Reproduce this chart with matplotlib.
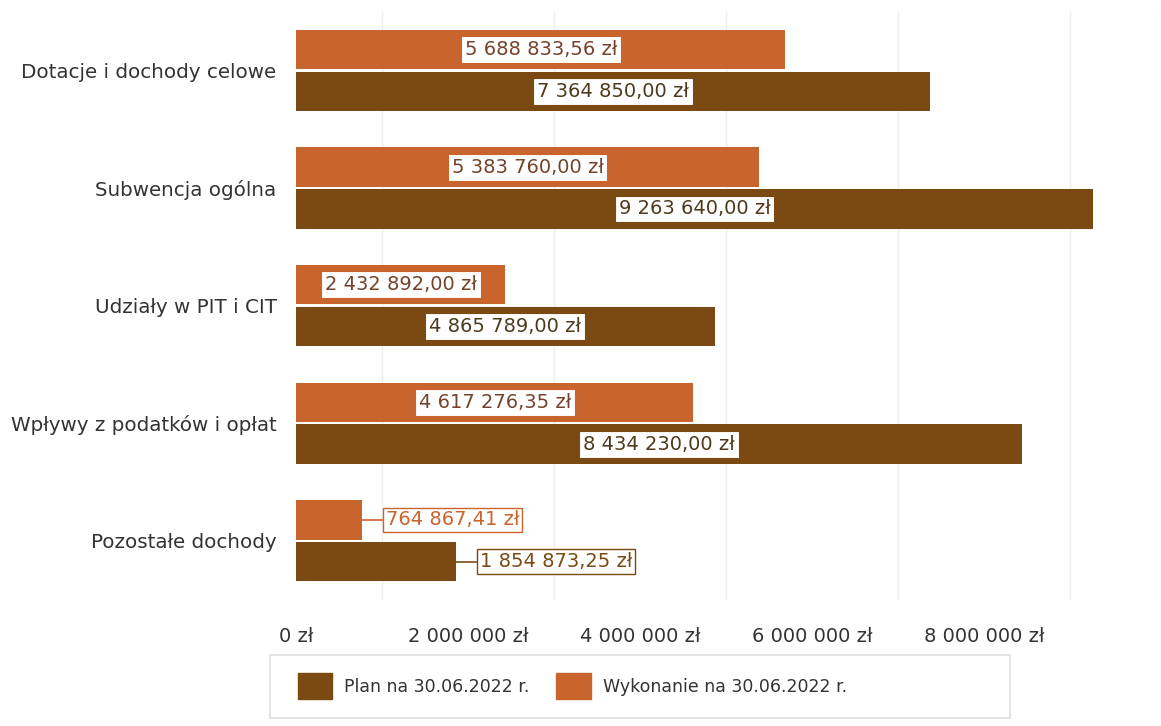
import matplotlib.pyplot as plt
from matplotlib.patches import Rectangle
from matplotlib.ticker import FixedLocator, FuncFormatter

categories = ['Dotacje i dochody celowe', 'Subwencja ogólna', 'Udziały w PIT i CIT',
              'Wpływy z podatków i opłat', 'Pozostałe dochody']
plan = [7364850.00, 9263640.00, 4865789.00, 8434230.00, 1854873.25]
wykonanie = [5688833.56, 5383760.00, 2432892.00, 4617276.35, 764867.41]
series_names = ['Plan na 30.06.2022 r.', 'Wykonanie na 30.06.2022 r.']

PLAN_C = '#7A4A12'
WYK_C = '#C8642C'
TEXT_C = '#333333'


def pln(v, dec=2):
    s = f'{v:,.{dec}f}'.replace(',', ' ').replace('.', ',')
    return s + ' zł'


fig = plt.figure(figsize=(11.61, 7.26), dpi=100)
fig.patch.set_facecolor('white')
ax = fig.add_axes([0.255, 0.174, 0.741, 0.81])

h = 0.335
ys = list(range(len(categories)))
ax.barh([y - h / 2 - 0.01 for y in ys], wykonanie, height=h, color=WYK_C, zorder=2)
ax.barh([y + h / 2 + 0.01 for y in ys], plan, height=h, color=PLAN_C, zorder=2)

ax.set_xlim(0, 10_000_000)
ax.set_ylim(len(categories) - 0.5, -0.5)

# value labels: centred inside if the bar is wide enough, else outside with a leader line
for vals, off, col, tcol in [(wykonanie, -h / 2 - 0.01, WYK_C, '#74432a'),
                             (plan, h / 2 + 0.01, PLAN_C, '#4d3a1c')]:
    for y, v in zip(ys, vals):
        yy = y + off
        if v > 2_000_000:
            ax.text(v / 2, yy, pln(v), ha='center', va='center', fontsize=14, color=tcol,
                    zorder=4, bbox=dict(boxstyle='square,pad=0.2', facecolor='white',
                                        edgecolor=col, linewidth=0.8))
        else:
            gap = 240_000
            ax.plot([v, v + gap], [yy, yy], color=col, lw=1.2, zorder=3)
            ax.text(v + gap + 40_000, yy, pln(v), ha='left', va='center', fontsize=14, color=col,
                    zorder=4, bbox=dict(boxstyle='square,pad=0.15', facecolor='white',
                                        edgecolor=col, linewidth=1.0))

ax.xaxis.set_major_locator(FixedLocator([0, 2e6, 4e6, 6e6, 8e6]))
ax.xaxis.set_major_formatter(FuncFormatter(lambda v, p: pln(v, 0)))
ax.set_xticks([i * 1e6 for i in range(11)], minor=True)
ax.grid(True, axis='x', which='minor', color='#eeeeee', lw=1, zorder=0)
ax.set_yticks(ys)
ax.set_yticklabels(categories)
ax.tick_params(axis='both', which='both', length=0, colors=TEXT_C)
ax.tick_params(axis='x', labelsize=14, pad=20)
ax.tick_params(axis='y', labelsize=14.3, pad=14)
for s in ax.spines.values():
    s.set_visible(False)

# legend with its own frame
fig.patches.append(Rectangle((270 / 1161, 1 - 718 / 726), 740 / 1161, 63 / 726,
                             transform=fig.transFigure, facecolor='white',
                             edgecolor='#e0e0e0', lw=1.2))
handles = [Rectangle((0, 0), 1, 1, color=PLAN_C), Rectangle((0, 0), 1, 1, color=WYK_C)]
fig.legend(handles, series_names, loc='center left', bbox_to_anchor=(282 / 1161, 1 - 686 / 726),
           ncol=2, frameon=False, fontsize=12.5, handlelength=2.0, handleheight=2.0,
           columnspacing=1.5, handletextpad=0.7, labelcolor=TEXT_C)

fig.savefig('out.png', dpi=100, facecolor='white')
